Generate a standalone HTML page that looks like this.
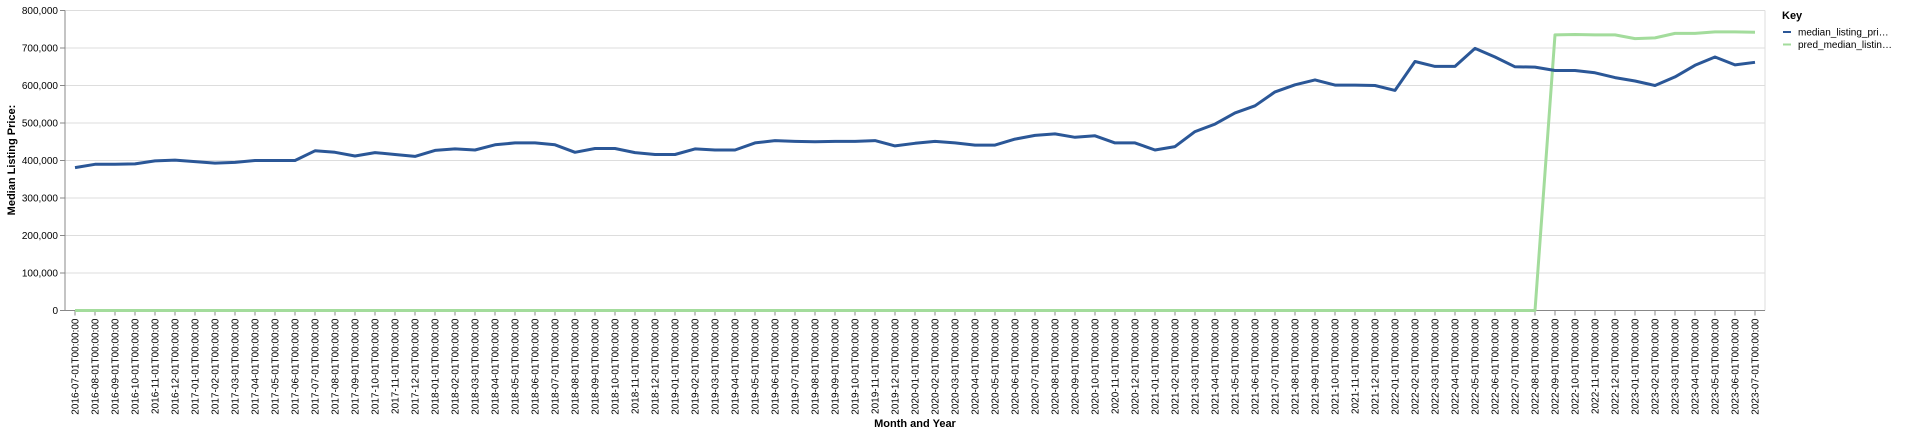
<!DOCTYPE html>
<html><head><meta charset="utf-8"><style>
html,body{margin:0;padding:0;background:#fff;}
svg{display:block;font-family:"Liberation Sans",Arial,sans-serif;}
</style></head><body>
<svg id="chart" width="1920" height="434" xmlns="http://www.w3.org/2000/svg">
<g id="grid"></g>
<g id="yaxis"></g>
<g id="xaxis"></g>
<g id="series"></g>
<text transform="translate(15,160) rotate(-90)" text-anchor="middle" font-size="11" font-weight="bold" fill="#000">Median Listing Price:</text>
<text x="915" y="427" text-anchor="middle" font-size="11" font-weight="bold" fill="#000">Month and Year</text>
<g>
<text x="1782" y="19" font-size="11" font-weight="bold" fill="#000">Key</text>
<g>
<line x1="1783" y1="32" x2="1791" y2="32" stroke="#2b5797" stroke-width="2"/>
<text x="1798" y="35.5" font-size="10" fill="#000">median_listing_pri…</text></g>
<g>
<line x1="1783" y1="44.5" x2="1791" y2="44.5" stroke="#a3dc9c" stroke-width="2"/>
<text x="1798" y="48" font-size="10" fill="#000">pred_median_listin…</text></g>
</g>
</svg>
<script>
const startYear = 2016, startMonth = 7, monthCount = 85;
const yTicks = [0,100000,200000,300000,400000,500000,600000,700000,800000];
const medianValues = [381000,390000,390000,391000,399000,401000,397000,393000,395000,400000,400000,400000,426000,422000,412000,421000,416000,411000,427000,431000,428000,442000,447000,447000,442000,422000,432000,432000,421000,416000,416000,431000,428000,428000,447000,453000,451000,450000,451000,451000,453000,439000,446000,451000,447000,441000,441000,457000,467000,471000,462000,466000,447000,447000,428000,437000,477000,497000,527000,546000,583000,602000,615000,601000,601000,600000,587000,664000,651000,651000,699000,676000,650000,649000,640000,640000,634000,621000,612000,600000,623000,654000,676000,655000,662000];
const predValues = [0,0,0,0,0,0,0,0,0,0,0,0,0,0,0,0,0,0,0,0,0,0,0,0,0,0,0,0,0,0,0,0,0,0,0,0,0,0,0,0,0,0,0,0,0,0,0,0,0,0,0,0,0,0,0,0,0,0,0,0,0,0,0,0,0,0,0,0,0,0,0,0,0,0,735000,736000,735000,735000,725000,727000,739000,739000,743000,743000,742000];
const categories = [];
for (let i=0;i<monthCount;i++){const m=startMonth-1+i;const y=startYear+Math.floor(m/12);const mm=(m%12)+1;categories.push(y+'-'+String(mm).padStart(2,'0')+'-01T00:00:00');}

const NS='http://www.w3.org/2000/svg';
const L=65,R=1765,T=10.5,B=310.5,YMAX=800000;
const band=(R-L)/categories.length;
const x=i=>L+band/2+i*band;
const y=v=>B-(v/YMAX)*(B-T);
function mk(tag,attrs,parent){const e=document.createElementNS(NS,tag);for(const k in attrs)e.setAttribute(k,attrs[k]);parent.appendChild(e);return e;}
const grid=document.getElementById('grid'),ya=document.getElementById('yaxis'),xa=document.getElementById('xaxis'),ser=document.getElementById('series');
yTicks.forEach(t=>{
  const g=mk('line',{x1:L,x2:R,y1:y(t),y2:y(t),stroke:'#ddd','stroke-width':1},grid);
  
  
  mk('line',{x1:L-5,x2:L,y1:y(t),y2:y(t),stroke:'#888'},ya);
  const tx=mk('text',{x:L-7,y:y(t)+3.5,'text-anchor':'end','font-size':10,fill:'#000'},ya);
  tx.textContent=t.toLocaleString('en-US');
  
  
});
mk('line',{x1:R,x2:R,y1:T,y2:B,stroke:'#ddd'},grid);
mk('line',{x1:L,x2:L,y1:T,y2:B,stroke:'#888'},ya);
mk('line',{x1:L,x2:R,y1:B,y2:B,stroke:'#888'},xa);
categories.forEach((c,i)=>{
  mk('line',{x1:x(i),x2:x(i),y1:B,y2:B+5,stroke:'#888'},xa);
  const tx=mk('text',{transform:'translate('+(x(i)+3.5)+','+(B+8)+') rotate(-90)','text-anchor':'end','font-size':10,fill:'#000'},xa);
  tx.textContent=c;
  
  
});
function line(vals,color,name){
  const d=vals.map((v,i)=>(i?'L':'M')+x(i).toFixed(1)+','+y(v).toFixed(1)).join('');
  const p=mk('path',{d:d,fill:'none',stroke:color,'stroke-width':3,'stroke-linejoin':'round'},ser);
  
  
}
line(predValues,'#a3dc9c','pred-median-line');
line(medianValues,'#2b5797','median-listing-price-line');
</script>
</body></html>
